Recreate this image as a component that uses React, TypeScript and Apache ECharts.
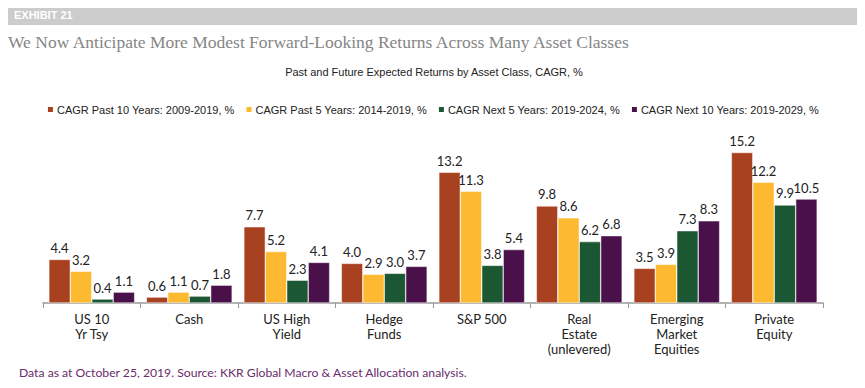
import React, { useEffect, useRef } from "react";
import * as echarts from "echarts";

const categories = [
  "US 10\nYr Tsy",
  "Cash",
  "US High\nYield",
  "Hedge\nFunds",
  "S&P 500",
  "Real\nEstate\n(unlevered)",
  "Emerging\nMarket\nEquities",
  "Private\nEquity",
];
const seriesNames = [
  "CAGR Past 10 Years: 2009-2019, %",
  "CAGR Past 5 Years: 2014-2019, %",
  "CAGR Next 5 Years: 2019-2024, %",
  "CAGR Next 10 Years: 2019-2029, %",
];
const past10 = [4.4, 0.6, 7.7, 4.0, 13.2, 9.8, 3.5, 15.2];
const past5 = [3.2, 1.1, 5.2, 2.9, 11.3, 8.6, 3.9, 12.2];
const next5 = [0.4, 0.7, 2.3, 3.0, 3.8, 6.2, 7.3, 9.9];
const next10 = [1.1, 1.8, 4.1, 3.7, 5.4, 6.8, 8.3, 10.5];
const colors = ["#A8411F", "#FDB92F", "#1C5733", "#4A1049"];

const labelFont = "Lato, 'Noto Sans', sans-serif";
const narrowFont = "'Liberation Sans', Arial, sans-serif";

export default function App() {
  const ref = useRef<HTMLDivElement>(null);
  useEffect(() => {
    if (!ref.current) return;
    const chart = echarts.init(ref.current, null, { renderer: "svg" });
    const data = [past10, past5, next5, next10];
    chart.setOption({
      animation: false,
      backgroundColor: "#ffffff",
      color: colors,
      graphic: [
        {
          type: "rect",
          shape: { x: 7, y: 5, width: 852, height: 20 },
          style: { fill: "#CCCCCC" },
          silent: true,
        },
        {
          type: "text",
          x: 14,
          y: 15,
          style: {
            text: "EXHIBIT 21",
            fill: "#ffffff",
            font: "bold 11px 'Liberation Sans', Arial, sans-serif",
            verticalAlign: "middle",
          },
        },
        {
          type: "text",
          x: 8,
          y: 42,
          style: {
            text: "We Now Anticipate More Modest Forward-Looking Returns Across Many Asset Classes",
            fill: "#858585",
            font: "17.5px 'Liberation Serif', serif",
            verticalAlign: "middle",
          },
        },
        {
          type: "text",
          x: 434,
          y: 72,
          style: {
            text: "Past and Future Expected Returns by Asset Class, CAGR, %",
            fill: "#222222",
            font: "11px " + narrowFont,
            align: "center",
            verticalAlign: "middle",
          },
        },
        {
          type: "text",
          x: 19,
          y: 372,
          style: {
            text: "Data as at October 25, 2019. Source: KKR Global Macro & Asset Allocation analysis.",
            fill: "#6A2C6A",
            font: "12.2px " + labelFont,
            verticalAlign: "middle",
          },
        },
      ],
      legend: {
        top: 99,
        left: "center",
        itemWidth: 7,
        itemHeight: 7,
        itemGap: 10,
        icon: "rect",
        textStyle: {
          color: "#222222",
          fontSize: 11,
          fontFamily: narrowFont,
          padding: [0, 0, 0, -2],
        },
        data: seriesNames,
      },
      grid: { left: 43, right: 42, top: 144.6, bottom: 85, containLabel: false },
      xAxis: {
        type: "category",
        data: categories,
        axisLine: { lineStyle: { color: "#999999", width: 1.5 } },
        axisTick: { show: true, length: 5, lineStyle: { color: "#999999" } },
        axisLabel: {
          color: "#222222",
          fontSize: 13,
          fontFamily: labelFont,
          lineHeight: 15,
          margin: 8,
          interval: 0,
        },
      },
      yAxis: {
        type: "value",
        min: 0,
        max: 16,
        show: false,
        splitLine: { show: false },
      },
      series: seriesNames.map((name, i) => ({
        name,
        type: "bar",
        data: data[i],
        barGap: "0%",
        barCategoryGap: "12%",
        itemStyle: { color: colors[i], borderColor: "#ffffff", borderWidth: 0.5 },
        label: {
          show: true,
          position: "top",
          distance: 5,
          color: "#222222",
          fontSize: 13,
          fontFamily: labelFont,
          formatter: (p: any) => Number(p.value).toFixed(1),
        },
      })),
    });
    return () => chart.dispose();
  }, []);
  return <div ref={ref} style={{ width: 865, height: 388, margin: -8 }} />;
}
